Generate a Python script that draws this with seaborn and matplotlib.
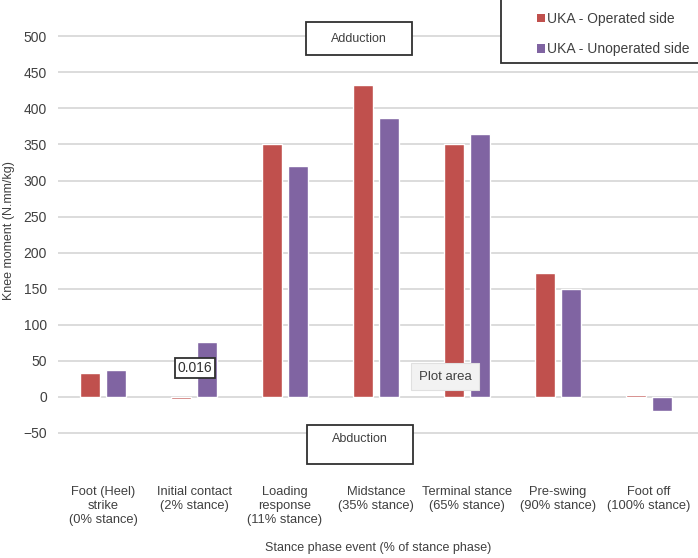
import matplotlib
matplotlib.use("Agg")
import matplotlib.pyplot as plt
from matplotlib.patches import Rectangle, Patch
import pandas as pd
import seaborn as sns

# values
EVENTS = ["Foot (Heel)\nstrike\n(0% stance)", "Initial contact\n(2% stance)",
          "Loading\nresponse\n(11% stance)", "Midstance\n(35% stance)",
          "Terminal stance\n(65% stance)", "Pre-swing\n(90% stance)",
          "Foot off\n(100% stance)"]
OPERATED = [33, -3, 350, 432, 350, 172, 3]
UNOPERATED = [37, 76, 320, 386, 365, 149, -19]
SERIES = ["UKA - Operated side", "UKA - Unoperated side"]
COLORS = ["#C0504D", "#8064A2"]
YTICKS = list(range(-50, 501, 50))

sns.set_theme(style="white")
plt.rcParams["font.family"] = ["Liberation Sans", "DejaVu Sans"]
TXT = "#404040"

df = pd.DataFrame({
    "event": EVENTS * 2,
    "moment": OPERATED + UNOPERATED,
    "side": [SERIES[0]] * len(EVENTS) + [SERIES[1]] * len(EVENTS),
})

fig = plt.figure(figsize=(6.98, 5.58), dpi=100)
ax = fig.add_axes([58 / 698, 1 - 451 / 558, 640 / 698, 440 / 558])

sns.barplot(data=df, x="event", y="moment", hue="side", palette=COLORS,
            width=0.57, gap=0.23, ax=ax, legend=False, saturation=1)

ax.set_xlim(-0.495, 6.54)
ax.set_ylim(-75, 535)
ax.set_yticks(YTICKS)
ax.yaxis.grid(True, color="#d9d9d9", linewidth=1.3)
ax.set_axisbelow(True)
for s in ax.spines.values():
    s.set_visible(False)
ax.tick_params(axis="both", length=0, colors=TXT)
ax.tick_params(axis="x", pad=25, labelsize=9.3)
ax.tick_params(axis="y", pad=8, labelsize=10)
for lbl in ax.get_xticklabels():
    lbl.set_horizontalalignment("center")
    lbl.set_linespacing(1.22)
ax.set_xlabel("Stance phase event (% of stance phase)", fontsize=9,
              color=TXT, labelpad=12)
ax.set_ylabel("Knee moment (N.mm/kg)", fontsize=9, color=TXT, labelpad=6)

# Adduction / Abduction boxes (text y given separately, Abduction sits high)
for (x0, x1, y0, y1, ty, txt) in [(2.231, 3.396, 473.5, 519.5, 496.5, "Adduction"),
                                  (2.242, 3.407, -38.8, -92.5, -58, "Abduction")]:
    ax.add_patch(Rectangle((x0, min(y0, y1)), x1 - x0, abs(y1 - y0),
                           facecolor="white", edgecolor="#303030", lw=1.3,
                           clip_on=False, zorder=5))
    ax.text((x0 + x1) / 2, ty, txt, ha="center", va="center",
            fontsize=9, color=TXT, zorder=6, clip_on=False)

# data label and tooltip
ax.text(1.01, 40, "0.016", ha="center", va="center", fontsize=10,
        color="#303030", zorder=6,
        bbox=dict(boxstyle="square,pad=0.2", facecolor="white",
                  edgecolor="#303030", lw=1.3))
ax.text(3.76, 28, "Plot area", ha="center", va="center", fontsize=9.5,
        color=TXT, zorder=6,
        bbox=dict(boxstyle="square,pad=0.55", facecolor="#f2f2f2",
                  edgecolor="#e0e0e0", lw=0.8))

# legend box
fig.patches.append(Rectangle((501 / 698, 1 - 63 / 558), 205 / 698, 70 / 558,
                             transform=fig.transFigure, facecolor="white",
                             edgecolor="#303030", lw=1.3, zorder=4))
handles = [Patch(facecolor=c, edgecolor="none") for c in COLORS]
leg = fig.legend(handles, SERIES, loc="upper left",
                 bbox_to_anchor=(526 / 698, 1 - 1 / 558), frameon=False,
                 fontsize=10, handlelength=0.55, handleheight=0.55,
                 handletextpad=0.15, labelspacing=1.18, borderpad=0.3)
for t in leg.get_texts():
    t.set_color(TXT)
leg.set_zorder(5)

fig.savefig("out.png", dpi=100)
